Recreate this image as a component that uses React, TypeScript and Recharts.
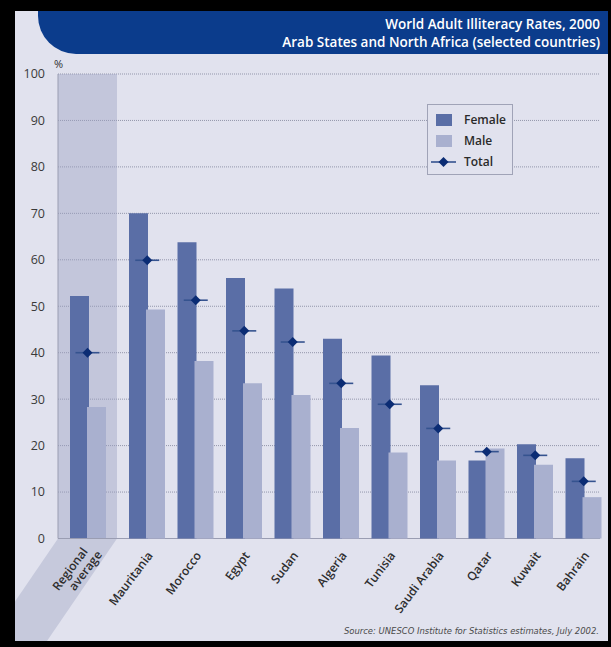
import React from 'react';
import { ComposedChart, Bar, Line, XAxis, YAxis, CartesianGrid, ReferenceArea, Legend } from 'recharts';

const categories = ['Regional\naverage', 'Mauritania', 'Morocco', 'Egypt', 'Sudan', 'Algeria', 'Tunisia', 'Saudi Arabia', 'Qatar', 'Kuwait', 'Bahrain'];
const femaleRates = [52.2, 70.0, 63.8, 56.1, 53.8, 43.0, 39.4, 33.0, 16.8, 20.3, 17.3];
const maleRates = [28.3, 49.3, 38.2, 33.4, 30.9, 23.8, 18.5, 16.8, 19.4, 15.9, 8.9];
const totalRates = [40.0, 59.9, 51.3, 44.7, 42.3, 33.4, 28.9, 23.7, 18.7, 17.9, 12.3];
const yTicks = [0, 10, 20, 30, 40, 50, 60, 70, 80, 90, 100];
const seriesNames = ['Female', 'Male', 'Total'];
const titleLines = ['World Adult Illiteracy Rates, 2000', 'Arab States and North Africa (selected countries)'];
const sourceText = 'Source: UNESCO Institute for Statistics estimates, July 2002.';

const rows = categories.map((c, i) => ({ category: c, female: femaleRates[i], male: maleRates[i], total: totalRates[i] }));
const avgRows = rows.slice(0, 1);
const countryRows = rows.slice(1);

const C = {
  frame: '#000000',
  panel: '#e1e2ee',
  band: '#c6c9dc',
  female: '#5a6ea6',
  male: '#a9b0cf',
  total: '#0b2c74',
  totalLine: '#35538f',
  grid: '#9396ab',
  axis: '#9a9db2',
  text: '#2e2e2e',
  banner: '#0b3c8c',
};
const FONT = "'Open Sans', 'DejaVu Sans', sans-serif";
const NARROW = "'Liberation Sans Narrow', 'DejaVu Sans Condensed', sans-serif";

const colorByKey: Record<string, string> = { female: C.female, male: C.male, total: C.total };

const TotalMarker = (props: any) => {
  const { cx, cy } = props;
  if (cx == null || cy == null || isNaN(cx) || isNaN(cy)) return null;
  return (
    <g>
      <line x1={cx - 12} x2={cx + 12} y1={cy} y2={cy} stroke={C.totalLine} strokeWidth={1.6} />
      <path d={`M${cx},${cy - 5} L${cx + 5},${cy} L${cx},${cy + 5} L${cx - 5},${cy} Z`} fill={C.total} />
    </g>
  );
};

const CategoryTick = (props: any) => {
  const { x, y, payload } = props;
  const lines = String(payload.value).split('\n');
  const first = 0.35 - (lines.length - 1) * 0.55;
  return (
    <g transform={`translate(${x + 4},${y + 5})`}>
      <text transform="rotate(-53)" textAnchor="end" fontSize={12} fontWeight={600} fill={C.text} fontFamily={FONT}>
        {lines.map((l, i) => (
          <tspan key={i} x={i === 0 ? -2 : 4} dy={i === 0 ? `${first}em` : '1.1em'}>{l}</tspan>
        ))}
      </text>
    </g>
  );
};

const LegendBox = (props: any) => {
  const payload = props.payload || [];
  return (
    <div style={{ width: 84, height: 65, border: '1px solid #a0a3b7', background: C.panel, boxSizing: 'content-box', paddingTop: 4, fontFamily: FONT }}>
      {payload.map((entry: any, i: number) => {
        const key = String(entry.dataKey);
        const isLine = key === 'total';
        return (
          <div key={i} style={{ display: 'flex', alignItems: 'center', height: 21 }}>
            <svg width={34} height={16} style={{ display: 'block' }}>
              {isLine ? (
                <g>
                  <line x1={3} x2={28} y1={8} y2={8} stroke={C.totalLine} strokeWidth={1.6} />
                  <path d="M15.5,3 L20.5,8 L15.5,13 L10.5,8 Z" fill={C.total} />
                </g>
              ) : (
                <rect x={8} y={2} width={16} height={12} fill={colorByKey[key]} />
              )}
            </svg>
            <span style={{ fontSize: 12, fontWeight: 600, color: '#2a2a2a', marginLeft: 2 }}>{entry.value}</span>
          </div>
        );
      })}
    </div>
  );
};

export default function App() {
  return (
    <div style={{ position: 'absolute', left: 0, top: 0, width: 611, height: 647, background: C.frame, overflow: 'hidden', fontFamily: FONT }}>
      <div style={{ position: 'absolute', left: 15, top: 11, width: 593, height: 630, background: C.panel }} />
      <svg width={611} height={647} style={{ position: 'absolute', left: 0, top: 0 }}>
        <defs>
          <clipPath id="panelClip">
            <rect x={15} y={11} width={593} height={630} />
          </clipPath>
        </defs>
        <g clipPath="url(#panelClip)">
          <polygon points="58,538.5 117,538.5 47,641 -12,641" fill={C.band} />
          <path d="M38,11 L38,16 A38,38 0 0 0 76,54 L611,54 L611,11 Z" fill={C.banner} />
        </g>
        <text x={600} y={29} textAnchor="end" fill="#ffffff" fontSize={13.5} fontWeight={600} fontFamily={FONT}>{titleLines[0]}</text>
        <text x={600} y={47} textAnchor="end" fill="#ffffff" fontSize={13.5} fontWeight={600} fontFamily={FONT}>{titleLines[1]}</text>
        <text x={599} y={634} textAnchor="end" fill="#4a4a4a" fontSize={9.4} fontStyle="italic" fontFamily={NARROW}>{sourceText}</text>
      </svg>

      <div style={{ position: 'absolute', left: 0, top: 0 }}>
        <ComposedChart width={611} height={647} data={avgRows} margin={{ top: 74, right: 11, bottom: 78.5, left: 18 }} barSize={19} barGap={-2}>
          <CartesianGrid vertical={false} stroke={C.grid} strokeDasharray="1 1" />
          <ReferenceArea x1={categories[0]} x2={categories[0]} y1={0} y2={100} fill="#9aa0c2" fillOpacity={0.42} stroke="none" ifOverflow="visible" />
          <XAxis dataKey="category" interval={0} padding={{ left: 0, right: 483 }} height={30} tickLine={false} axisLine={{ stroke: C.axis, strokeWidth: 1.2 }} tick={<CategoryTick />} />
          <YAxis yAxisId={0} domain={[0, 100]} ticks={yTicks} width={40} tickLine={false} tickMargin={7}
            axisLine={{ stroke: C.axis }} tick={{ fill: '#3a3a3a', fontSize: 12.5 }}
            label={{
              content: (p: any) => {
                const vb = p.viewBox || {};
                return <text x={(vb.x || 0) + (vb.width || 0) - 4} y={(vb.y || 0) - 6} fontSize={11} fill={C.text} fontFamily={FONT}>%</text>;
              },
            }} />
          <YAxis yAxisId="border" orientation="right" domain={[0, 100]} width={0} tick={false} tickLine={false} axisLine={{ stroke: C.grid, strokeDasharray: '1 1' }} />
          <Bar dataKey="female" name={seriesNames[0]} fill={C.female} isAnimationActive={false} />
          <Bar dataKey="male" name={seriesNames[1]} fill={C.male} isAnimationActive={false} />
          <Line dataKey="total" name={seriesNames[2]} stroke="none" dot={<TotalMarker />} activeDot={false} isAnimationActive={false} />
        </ComposedChart>
      </div>

      <div style={{ position: 'absolute', left: 0, top: 0 }}>
        <ComposedChart width={611} height={647} data={countryRows} margin={{ top: 74, right: 3, bottom: 78.5, left: 123 }} barSize={19} barGap={-2}>
          <XAxis dataKey="category" interval={0} height={30} tickLine={false} axisLine={false} tick={<CategoryTick />} />
          <YAxis domain={[0, 100]} ticks={yTicks} hide />
          <Bar dataKey="female" name={seriesNames[0]} fill={C.female} isAnimationActive={false} />
          <Bar dataKey="male" name={seriesNames[1]} fill={C.male} isAnimationActive={false} />
          <Line dataKey="total" name={seriesNames[2]} stroke="none" dot={<TotalMarker />} activeDot={false} isAnimationActive={false} legendType="line" />
          <Legend layout="horizontal" verticalAlign="middle" align="center" content={<LegendBox />}
            wrapperStyle={{ position: 'absolute', left: 427, top: 104, width: 86, height: 71 }} />
        </ComposedChart>
      </div>
    </div>
  );
}
